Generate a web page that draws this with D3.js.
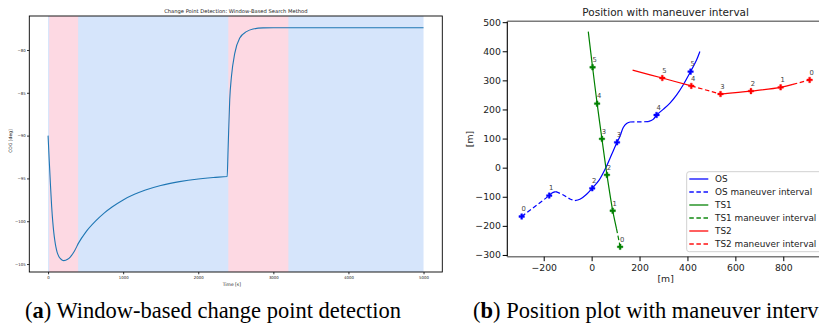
<!DOCTYPE html>
<html>
<head>
<meta charset="utf-8">
<script src="https://cdn.jsdelivr.net/npm/d3@7"></script>
<style>
  html, body { margin: 0; padding: 0; background: #fff; }
  svg { display: block; font-family: "DejaVu Sans", sans-serif; }
</style>
</head>
<body>
<svg id="fig" width="819" height="331"></svg>
<script>
// ---------- (a) course over ground vs. time ----------
const cogTime = [0, 16, 32, 48, 63, 76, 89, 104, 120, 140, 165, 190, 209, 260, 298, 350, 409, 500,
                 631, 750, 852, 1000, 1150, 1297, 1500, 1750, 2000, 2200, 2385, 2397, 2419, 2442,
                 2486, 2553, 2642, 2730, 2863, 3000, 3500, 4000, 4500, 5000];
const cogDeg = [-90, -93.0, -95.8, -98.3, -100.1, -101.3, -102.2, -103.0, -103.6, -104.05, -104.38,
                -104.55, -104.6, -104.45, -104.15, -103.5, -102.5, -101.3, -100.0, -99.03, -98.34,
                -97.51, -96.86, -96.35, -95.82, -95.37, -95.06, -94.89, -94.78, -91.7, -85.8, -83.1,
                -80.4, -78.6, -77.86, -77.55, -77.42, -77.4, -77.4, -77.4, -77.4, -77.4];
const searchSpan = [0, 5000];
const changeSpans = [[15, 400], [2400, 3200]];
const timeTicks = [0, 1000, 2000, 3000, 4000, 5000];
const cogTicks = [-105, -100, -95, -90, -85, -80];

// ---------- (b) ship positions ----------
const osTrack = [[-292, -168], [-177, -96], [-167, -88], [-150, -82.5], [-118, -94], [-90, -107.6],
                 [-70, -113], [-49, -108.8], [-21, -91.6], [2.5, -71], [32, -42], [60, 1], [83, 44],
                 [106, 87], [118, 107], [132, 138], [146, 152], [160, 157], [236, 158], [257, 166],
                 [271, 181], [300, 201], [327, 222], [355, 250], [382, 284], [413, 330], [438, 370],
                 [452, 399]];
const osManeuver = [[0, 1], [3, 6], [17, 18]];
const osMarkIdx = [0, 1, 9, 13, 20, 25];          // time marks 0..5

const ts1Track = [[-14, 467.5], [4, 345], [23, 220], [43, 99], [64, -25], [88, -148], [104, -210], [119, -272]];
const ts1Maneuver = [[6, 7]];
const ts1MarkIdx = [7, 5, 4, 3, 2, 1];

const ts2Track = [[171, 335], [295, 308], [416, 281], [538, 253], [665, 263], [789, 276], [840, 286], [910, 301.5]];
const ts2Maneuver = [[2, 3], [6, 7]];
const ts2MarkIdx = [7, 5, 4, 3, 2, 1];

const posXTicks = [-200, 0, 200, 400, 600, 800];
const posYTicks = [-300, -200, -100, 0, 100, 200, 300, 400, 500];
const legendLabels = ["OS", "OS maneuver interval", "TS1", "TS1 maneuver interval", "TS2", "TS2 maneuver interval"];

const svg = d3.select("#fig");

// =============== panel (a) ===============
{
  const L = 29.3, R = 442.3, T = 16, B = 272;
  const x = d3.scaleLinear().domain([-250, 5250]).range([L, R]);
  const y = d3.scaleLinear().domain([-105.93, -76.03]).range([B, T]);
  const g = svg.append("g");

  g.append("rect").attr("x", x(searchSpan[0])).attr("y", T)
    .attr("width", x(searchSpan[1]) - x(searchSpan[0])).attr("height", B - T)
    .attr("fill", "#d6e5fb");
  g.selectAll("rect.chg").data(changeSpans).join("rect").attr("class", "chg")
    .attr("x", d => x(d[0])).attr("y", T)
    .attr("width", d => x(d[1]) - x(d[0])).attr("height", B - T)
    .attr("fill", "#fdd9e3");

  const line = d3.line().x((d, i) => x(cogTime[i])).y(d => y(d)).curve(d3.curveMonotoneX);
  g.append("path").attr("d", line(cogDeg)).attr("fill", "none")
    .attr("stroke", "#1f77b4").attr("stroke-width", 1.1);

  g.append("rect").attr("x", L).attr("y", T).attr("width", R - L).attr("height", B - T)
    .attr("fill", "none").attr("stroke", "#000").attr("stroke-width", 0.9);

  const xa = g.append("g").attr("transform", `translate(0,${B})`)
    .call(d3.axisBottom(x).tickValues(timeTicks).tickSize(2.3).tickPadding(1.5).tickFormat(d3.format("d")));
  const ya = g.append("g").attr("transform", `translate(${L},0)`)
    .call(d3.axisLeft(y).tickValues(cogTicks).tickSize(2.3).tickPadding(1.2));
  [xa, ya].forEach(a => {
    a.select(".domain").remove();
    a.selectAll("line").attr("stroke", "#000").attr("stroke-width", 0.8);
    a.selectAll("text").attr("font-size", 3.9).attr("fill", "#222").attr("font-family", "DejaVu Sans");
  });

  g.append("text").attr("x", (L + R) / 2).attr("y", 13.3).attr("text-anchor", "middle")
    .attr("font-size", 5.2).attr("fill", "#222").text("Change Point Detection: Window-Based Search Method");
  g.append("text").attr("x", (L + R) / 2 - 4).attr("y", 285.5).attr("text-anchor", "middle")
    .attr("font-size", 4.5).attr("fill", "#222").text("Time [s]");
  g.append("text").attr("transform", `translate(11.5,${(T + B) / 2 - 3}) rotate(-90)`)
    .attr("text-anchor", "middle").attr("font-size", 4.5).attr("fill", "#222").text("COG [deg]");
}

// =============== panel (b) ===============
{
  const L = 507.3, R = 824, T = 21.3, B = 256.7;
  const x = d3.scaleLinear().domain([-352, 970]).range([L, R]);
  const y = d3.scaleLinear().domain([-306, 503]).range([B, T]);
  const g = svg.append("g");
  const line = d3.line().x(d => x(d[0])).y(d => y(d[1])).curve(d3.curveCatmullRom);

  function pieces(track, dashedRanges) {
    const out = [];
    let cur = 0;
    dashedRanges.forEach(([a, b]) => {
      if (a > cur) out.push({ dashed: false, pts: track.slice(cur, a + 1) });
      out.push({ dashed: true, pts: track.slice(a, b + 1) });
      cur = b;
    });
    if (cur < track.length - 1) out.push({ dashed: false, pts: track.slice(cur) });
    return out;
  }

  const ships = [
    { track: osTrack, man: osManeuver, marks: osMarkIdx, color: "#0000ff" },
    { track: ts1Track, man: ts1Maneuver, marks: ts1MarkIdx, color: "#008000" },
    { track: ts2Track, man: ts2Maneuver, marks: ts2MarkIdx, color: "#ff0000" }
  ];

  const sym = d3.symbol().type(d3.symbolCross).size(17);
  ships.forEach(s => {
    pieces(s.track, s.man).forEach(p => {
      g.append("path").attr("d", line(p.pts)).attr("fill", "none")
        .attr("stroke", s.color).attr("stroke-width", 1.2)
        .attr("stroke-dasharray", p.dashed ? "4.5,2.6" : null);
    });
    s.marks.forEach((idx, label) => {
      const [px, py] = s.track[idx];
      g.append("path").attr("d", sym).attr("transform", `translate(${x(px)},${y(py)})`)
        .attr("fill", s.color).attr("stroke", s.color).attr("stroke-width", 0.4);
      g.append("text").attr("x", x(px) + 2).attr("y", y(py) - 5.2).attr("text-anchor", "middle")
        .attr("font-size", 6.8).attr("fill", "#444").text(label);
    });
  });

  // spines
  g.append("line").attr("x1", L).attr("x2", L).attr("y1", T).attr("y2", B)
    .attr("stroke", "#000").attr("stroke-width", 1.1);
  [T, B].forEach(yy => g.append("line").attr("x1", L).attr("x2", R).attr("y1", yy).attr("y2", yy)
    .attr("stroke", "#7a7a7a").attr("stroke-width", 1.6));
  g.append("line").attr("x1", R).attr("x2", R).attr("y1", T).attr("y2", B)
    .attr("stroke", "#000").attr("stroke-width", 1.1);

  const xa = g.append("g").attr("transform", `translate(0,${B})`)
    .call(d3.axisBottom(x).tickValues(posXTicks).tickSize(4.5).tickPadding(3.2));
  const ya = g.append("g").attr("transform", `translate(${L},0)`)
    .call(d3.axisLeft(y).tickValues(posYTicks).tickSize(4.6).tickPadding(1.8));
  [xa, ya].forEach(a => {
    a.select(".domain").remove();
    a.selectAll("line").attr("stroke", "#000").attr("stroke-width", 1);
    a.selectAll("text").attr("font-size", 9.3).attr("fill", "#222").attr("font-family", "DejaVu Sans");
  });

  g.append("text").attr("x", (L + R) / 2).attr("y", 16).attr("text-anchor", "middle")
    .attr("font-size", 10.5).attr("fill", "#222").text("Position with maneuver interval");
  g.append("text").attr("x", (L + R) / 2).attr("y", 281.5).attr("text-anchor", "middle")
    .attr("font-size", 9.3).attr("fill", "#222").text("[m]");
  g.append("text").attr("transform", `translate(472.5,${(T + B) / 2}) rotate(-90)`)
    .attr("text-anchor", "middle").attr("font-size", 9.3).attr("fill", "#222").text("[m]");

  // legend
  const lg = g.append("g");
  lg.append("rect").attr("x", 686.7).attr("y", 171.7).attr("width", 140).attr("height", 80)
    .attr("rx", 2.5).attr("fill", "#fff").attr("fill-opacity", 0.8).attr("stroke", "#cccccc").attr("stroke-width", 0.9);
  const legColors = ["#0000ff", "#0000ff", "#008000", "#008000", "#ff0000", "#ff0000"];
  legendLabels.forEach((lab, i) => {
    const yy = 179 + i * 13;
    lg.append("line").attr("x1", 689.3).attr("x2", 708.3).attr("y1", yy).attr("y2", yy)
      .attr("stroke", legColors[i]).attr("stroke-opacity", 0.7).attr("stroke-width", 1.8)
      .attr("stroke-dasharray", i % 2 ? "4.5,2.6" : null);
    lg.append("text").attr("x", 715).attr("y", yy + 3.3).attr("font-size", 8.9).attr("fill", "#222").text(lab);
  });
}

// =============== captions ===============
function caption(xPos, letter, rest) {
  const t = svg.append("text").attr("x", xPos).attr("y", 318)
    .attr("font-family", "'Liberation Serif', 'Times New Roman', serif").attr("font-size", 22.5).attr("fill", "#000");
  t.append("tspan").text("(");
  t.append("tspan").attr("font-weight", "bold").text(letter);
  t.append("tspan").text(") " + rest);
}
caption(25, "a", "Window-based change point detection");
caption(473, "b", "Position plot with maneuver interval");
</script>
</body>
</html>
